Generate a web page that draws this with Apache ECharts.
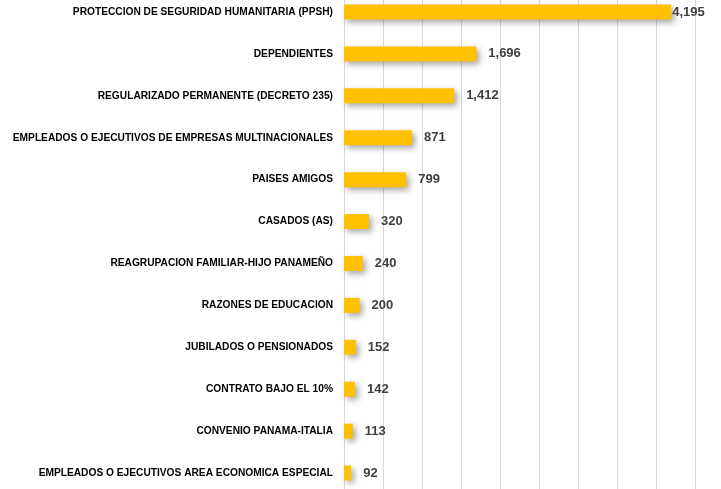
<!DOCTYPE html>
<html>
<head>
<meta charset="utf-8">
<script src="https://cdn.jsdelivr.net/npm/echarts@6/dist/echarts.min.js"></script>
<style>
  html, body { margin: 0; padding: 0; background: #fff; overflow: hidden; }
  /* el gráfico original está recortado arriba: se desplaza el contenedor */
  #chart { width: 721px; height: 512px; margin-top: -9px; }
</style>
</head>
<body>
<div id="chart"></div>
<script>
// categorías de arriba hacia abajo
const categories = [
  'PROTECCION DE SEGURIDAD HUMANITARIA (PPSH)',
  'DEPENDIENTES',
  'REGULARIZADO PERMANENTE (DECRETO 235)',
  'EMPLEADOS O EJECUTIVOS DE EMPRESAS MULTINACIONALES',
  'PAISES AMIGOS',
  'CASADOS (AS)',
  'REAGRUPACION FAMILIAR-HIJO PANAMEÑO',
  'RAZONES DE EDUCACION',
  'JUBILADOS O PENSIONADOS',
  'CONTRATO BAJO EL 10%',
  'CONVENIO PANAMA-ITALIA',
  'EMPLEADOS O EJECUTIVOS AREA ECONOMICA ESPECIAL'
]
const values = [4195, 1696, 1412, 871, 799, 320, 240, 200, 152, 142, 113, 92]

const chart = echarts.init(document.getElementById('chart'))

const fmt = v => v.toLocaleString('en-US')

chart.setOption({
  animation: false,
  grid: { left: 344, right: 26, top: 0, height: 503, containLabel: false },
  xAxis: {
    type: 'value',
    min: 0,
    max: 4500,
    interval: 500,
    axisLabel: { show: false },
    axisLine: { show: false },
    axisTick: { show: false },
    splitLine: { lineStyle: { color: '#d9d9d9', width: 1 } }
  },
  yAxis: {
    type: 'category',
    inverse: true,
    data: categories,
    axisTick: { show: false },
    axisLine: { lineStyle: { color: '#d9d9d9', width: 1 } },
    axisLabel: {
      margin: 11,
      color: '#000',
      fontWeight: 'bold',
      fontSize: 10.2,
      fontFamily: 'Liberation Sans'
    }
  },
  series: [{
    type: 'bar',
    barWidth: 15,
    data: values.map((v, i) => i === 0 ? { value: v, label: { distance: 1 } } : v),
    itemStyle: {
      color: '#FFC000',
      shadowColor: 'rgba(0,0,0,0.35)',
      shadowBlur: 6,
      shadowOffsetX: 3,
      shadowOffsetY: 3
    },
    label: {
      show: true,
      position: 'right',
      distance: 12,
      color: '#404040',
      fontWeight: 'bold',
      fontSize: 13,
      fontFamily: 'Liberation Sans',
      formatter: p => fmt(p.value)
    }
  }]
})

window.addEventListener('resize', () => chart.resize())
</script>
</body>
</html>
